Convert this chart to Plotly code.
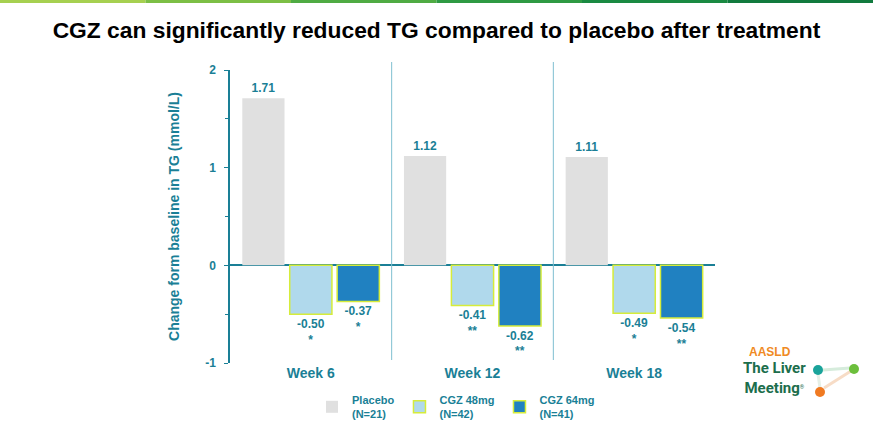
import plotly.graph_objects as go

weeks = ["Week 6", "Week 12", "Week 18"]
placebo = [1.71, 1.12, 1.11]
cgz48 = [-0.50, -0.41, -0.49]
cgz64 = [-0.37, -0.62, -0.54]
sig48 = ["*", "**", "*"]
sig64 = ["*", "**", "**"]
series_names = ["<b>Placebo<br>(N=21)</b>", "<b>CGZ 48mg<br>(N=42)</b>", "<b>CGZ 64mg<br>(N=41)</b>"]

TEAL = "#1a7f96"
LIME = "#d6ec3a"
FONT = "Liberation Sans"

W, H = 873, 434
L, R, T, B = 230, 158, 70, 71
PW, PH = W - L - R, H - T - B

def px(x):
    return (x - L) / PW

def py(y):
    return (H - B - y) / PH

def lab(v, s=None):
    t = f"<b>{v:.2f}</b>"
    if s:
        t += f"<br><b>{s}</b>"
    return t

fig = go.Figure()
fig.add_trace(go.Bar(x=weeks, y=placebo, name=series_names[0],
                     marker=dict(color="#e0e0e0", line=dict(width=0)),
                     text=[lab(v) for v in placebo]))
fig.add_trace(go.Bar(x=weeks, y=cgz48, name=series_names[1],
                     marker=dict(color="#b0d9ec", line=dict(color=LIME, width=1.5)),
                     text=[lab(v, s) for v, s in zip(cgz48, sig48)]))
fig.add_trace(go.Bar(x=weeks, y=cgz64, name=series_names[2],
                     marker=dict(color="#2081c1", line=dict(color=LIME, width=1.5)),
                     text=[lab(v, s) for v, s in zip(cgz64, sig64)]))
fig.update_traces(textposition="outside", cliponaxis=False,
                  textfont=dict(color=TEAL, size=12, family=FONT))

shapes = []
for xb in [0.5, 1.5]:
    shapes.append(dict(type="line", xref="x", yref="paper", x0=xb, x1=xb, y0=py(360), y1=py(62),
                       line=dict(color="#7fbfd0", width=1)))
band = ["#a6d050", "#7cbf45", "#4fab43", "#2f9a43", "#1a8a42", "#117a3e"]
n = len(band)
for i, c in enumerate(band):
    shapes.append(dict(type="rect", xref="paper", yref="paper",
                       x0=px(i * W / n), x1=px((i + 1) * W / n),
                       y0=py(3), y1=py(0), line=dict(width=0), fillcolor=c, layer="above"))

fig.update_layout(
    width=W, height=H,
    margin=dict(l=L, r=R, t=T, b=B, autoexpand=False),
    paper_bgcolor="white", plot_bgcolor="white",
    font=dict(family=FONT, color=TEAL),
    barmode="group", bargap=0.12, bargroupgap=0.11,
    showlegend=True,
    legend=dict(orientation="h", xref="container", yref="container",
                x=312 / W, y=1 - 407 / H, xanchor="left", yanchor="middle",
                font=dict(size=11, color=TEAL, family=FONT),
                traceorder="normal", bgcolor="rgba(0,0,0,0)"),
    title=dict(text="<b>CGZ can significantly reduced TG compared to placebo after treatment</b>",
               x=0.5, xref="container", xanchor="center", yref="container", y=1 - 30 / H, yanchor="middle",
               font=dict(size=22.8, color="black", family=FONT)),
    shapes=shapes,
)

fig.update_yaxes(range=[-1, 2], tickvals=[-1, 0, 1, 2], ticktext=["<b>-1</b>", "<b>0</b>", "<b>1</b>", "<b>2</b>"],
                 automargin=False,
                 showline=True, linecolor=TEAL, linewidth=1.5, ticks="outside", ticklen=4,
                 tickcolor=TEAL, showgrid=False, zeroline=True, zerolinecolor=TEAL, zerolinewidth=1.5,
                 minor=dict(tickvals=[-0.5, 0.5, 1.5], ticks="outside", ticklen=3, tickcolor=TEAL),
                 tickfont=dict(size=12, color=TEAL, family=FONT), ticklabelstandoff=6,
                 title=dict(text="<b>Change form baseline in TG (mmol/L)</b>",
                            font=dict(size=14, color=TEAL, family=FONT), standoff=22))
fig.update_xaxes(showline=False, ticks="", showgrid=False, automargin=False,
                 tickfont=dict(size=14, color=TEAL, family=FONT),
                 tickvals=weeks, ticktext=[f"<b>{w}</b>" for w in weeks])

# logo
fig.add_annotation(xref="paper", yref="paper", x=px(770), y=py(352), xanchor="center", yanchor="middle",
                   text="<b>AASLD</b>", showarrow=False, font=dict(size=12, color="#f08a24", family=FONT))
fig.add_annotation(xref="paper", yref="paper", x=px(774), y=py(378), xanchor="center", yanchor="middle",
                   text="<b>The Liver</b><br><b>Meeting</b><span style='font-size:8px'><sup>®</sup></span>",
                   showarrow=False, align="center",
                   font=dict(size=15, color="#1c6e4c", family="Roboto"))
fig.add_shape(type="line", xref="paper", yref="paper", x0=px(823), x1=px(850),
              y0=py(370), y1=py(368), line=dict(color="#d6ecdc", width=3))
fig.add_shape(type="line", xref="paper", yref="paper", x0=px(824), x1=px(851),
              y0=py(388), y1=py(371), line=dict(color="#f7dcc6", width=3))
fig.add_shape(type="line", xref="paper", yref="paper", x0=px(818), x1=px(820),
              y0=py(374), y1=py(388), line=dict(color="#e6efe6", width=3))
for (cx, cy, col) in [(818, 370, "#1aa39a"), (854, 369, "#6cbf3c"), (820, 392, "#f07a22")]:
    fig.add_shape(type="circle", xref="paper", yref="paper",
                  x0=px(cx - 5), x1=px(cx + 5), y0=py(cy + 5), y1=py(cy - 5),
                  fillcolor=col, line=dict(width=0))

fig.write_html("out.html", config={"displayModeBar": False},
               post_script="document.body.style.margin='0';document.body.style.overflow='hidden';")
